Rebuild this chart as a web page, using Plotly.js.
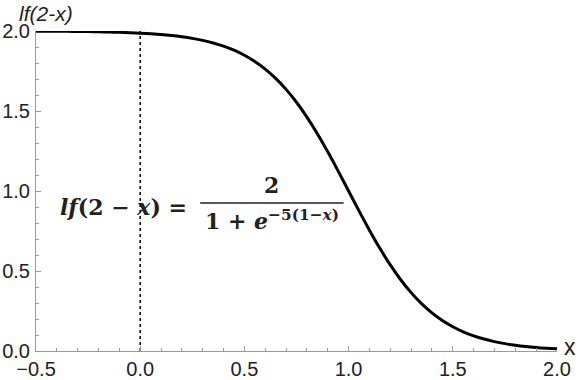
<!DOCTYPE html>
<html>
<head>
<meta charset="utf-8">
<script src="https://cdn.plot.ly/plotly-3.0.1.min.js"></script>
<style>html,body{margin:0;padding:0;background:#fff;}#chart{width:581px;height:380px;}</style>
</head>
<body>
<div id="chart"></div>
<script>
// curve lf(2-x)
const xVals = [-0.5,-0.45,-0.4,-0.35,-0.3,-0.25,-0.2,-0.15,-0.1,-0.05,0,0.05,0.1,0.15,0.2,0.25,0.3,0.35,0.4,0.45,0.5,0.55,0.6,0.65,0.7,0.75,0.8,0.85,0.9,0.95,1.0,1.05,1.1,1.15,1.2,1.25,1.3,1.35,1.4,1.45,1.5,1.55,1.6,1.65,1.7,1.75,1.8,1.85,1.9,1.95,2.0];
const yVals = [1.9989,1.9986,1.9982,1.9977,1.9970,1.9962,1.9951,1.9937,1.9919,1.9896,1.9866,1.9829,1.9780,1.9719,1.9640,1.9540,1.9414,1.9254,1.9052,1.8798,1.8483,1.8093,1.7616,1.7039,1.6352,1.5546,1.4621,1.3584,1.2449,1.1244,1.0,0.8756,0.7551,0.6417,0.5379,0.4454,0.3649,0.2961,0.2384,0.1907,0.1517,0.1202,0.0949,0.0747,0.0586,0.0460,0.0360,0.0281,0.0220,0.0172,0.0134];
// dotted marker line at x = 0
const markX = [0, 0];
const markY = [0, 2];
const xTicks = [-0.5, 0, 0.5, 1.0, 1.5, 2.0];
const xTickText = ["\u22120.5", "0.0", "0.5", "1.0", "1.5", "2.0"];
const yTicks = [0, 0.5, 1.0, 1.5, 2.0];
const yTickText = ["0.0", "0.5", "1.0", "1.5", "2.0"];

const traces = [
  {x: markX, y: markY, mode: 'lines', line: {color: '#000', width: 1.5, dash: 'dot'}, hoverinfo: 'skip'},
  {x: xVals, y: yVals, mode: 'lines', line: {color: '#000', width: 3, shape: 'spline'}}
];

const serif = "DejaVu Serif, Liberation Serif, serif";
const sans = "Liberation Sans, Arial, sans-serif";
const layout = {
  width: 581, height: 380,
  margin: {l: 36, r: 24, t: 31, b: 29},
  showlegend: false,
  paper_bgcolor: '#fff', plot_bgcolor: '#fff',
  font: {family: sans, color: '#222', size: 20},
  xaxis: {
    range: [-0.5, 2.0], showgrid: false, zeroline: false,
    showline: true, linecolor: '#9a9a9a', linewidth: 1,
    ticks: 'inside', ticklen: 5, tickcolor: '#9a9a9a', tickwidth: 1,
    tickvals: xTicks, ticktext: xTickText,
    tickfont: {size: 20, color: '#222'}, ticklabelstandoff: 0,
    minor: {dtick: 0.1, tick0: 0, ticks: 'inside', ticklen: 3, tickcolor: '#9a9a9a', showgrid: false}
  },
  yaxis: {
    range: [0, 2.0], showgrid: false, zeroline: false,
    showline: true, linecolor: '#9a9a9a', linewidth: 1,
    ticks: 'inside', ticklen: 5, tickcolor: '#9a9a9a', tickwidth: 1,
    tickvals: yTicks, ticktext: yTickText,
    tickfont: {size: 20, color: '#222'}, ticklabelstandoff: 1,
    minor: {dtick: 0.1, tick0: 0, ticks: 'inside', ticklen: 3, tickcolor: '#9a9a9a', showgrid: false}
  },
  shapes: [
    {type: 'line', xref: 'x', yref: 'y', x0: 0.288, x1: 0.976, y0: 0.925, y1: 0.925, line: {color: '#222', width: 1.5}}
  ],
  annotations: [
    {xref: 'paper', yref: 'paper', x: -0.036, y: 1.0, yshift: 4, xanchor: 'left', yanchor: 'bottom', showarrow: false,
     text: '<i>lf(2-x)</i>', font: {size: 21, color: '#222', family: sans}},
    {xref: 'paper', yref: 'paper', x: 1.0, y: 0.0, xshift: 5, yshift: 4, xanchor: 'left', yanchor: 'middle', showarrow: false,
     text: 'x', font: {size: 23, color: '#222', family: sans}},
    {xref: 'x', yref: 'y', x: 0.232, y: 0.9, xanchor: 'right', yanchor: 'middle', showarrow: false,
     text: '<b><i>lf</i>(2 \u2212 <i>x</i>) =</b>', font: {size: 22, color: '#222', family: serif}},
    {xref: 'x', yref: 'y', x: 0.632, y: 1.035, xanchor: 'center', yanchor: 'middle', showarrow: false,
     text: '<b>2</b>', font: {size: 22, color: '#222', family: serif}},
    {xref: 'x', yref: 'y', x: 0.632, y: 0.82, xanchor: 'center', yanchor: 'middle', showarrow: false,
     text: '<b>1 + <i>e</i><sup>\u22125(1\u2212<i>x</i>)</sup></b>', font: {size: 22, color: '#222', family: serif}}
  ]
};

Plotly.newPlot('chart', traces, layout, {displayModeBar: false, staticPlot: true});
</script>
</body>
</html>
